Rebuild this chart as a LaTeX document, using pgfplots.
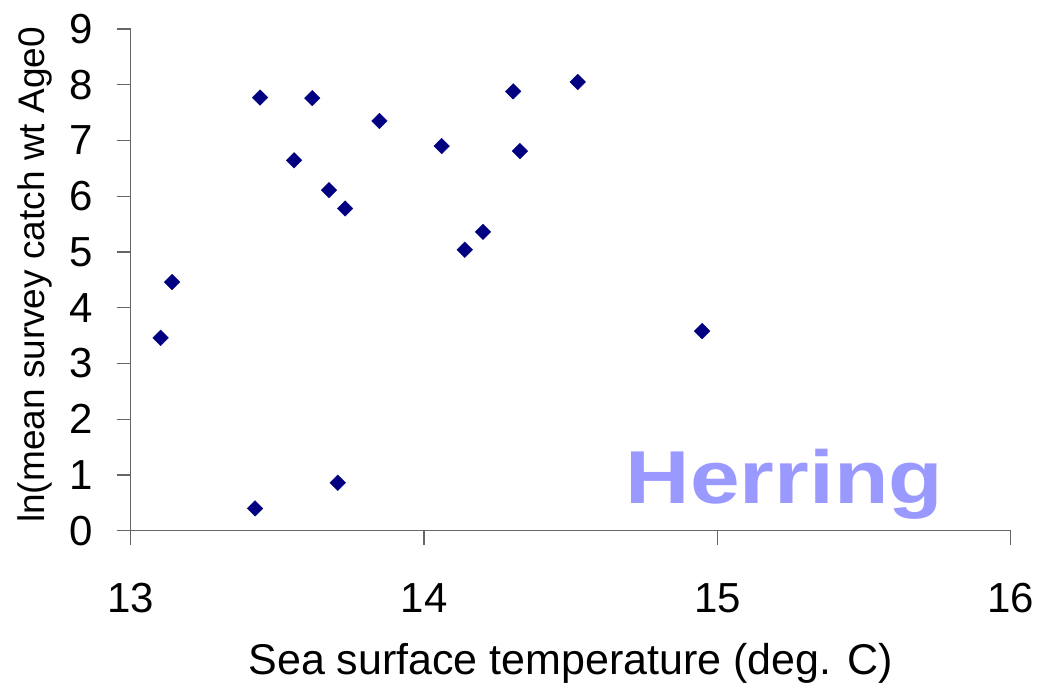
\documentclass[border=0pt]{standalone}
\usepackage{fontspec}
\setmainfont{Liberation Sans}
\usepackage{pgfplots}
\usepackage{pgfplotstable}
\pgfplotsset{compat=1.18}
\definecolor{navy}{HTML}{000080}
\definecolor{herring}{HTML}{9999FF}
\definecolor{axisgray}{HTML}{666666}
\pgfplotstableread{
x y
13.102 3.46
13.141 4.46
13.424 0.40
13.441 7.77
13.557 6.645
13.619 7.76
13.676 6.11
13.706 0.86
13.731 5.78
13.848 7.35
14.060 6.90
14.139 5.04
14.201 5.36
14.304 7.88
14.327 6.81
14.524 8.05
14.948 3.58
}\herringdata
\begin{document}
\begin{tikzpicture}
\useasboundingbox (-130.7pt,-162.3pt) rectangle (907.3pt,530.7pt);
\begin{axis}[
  at={(0pt,0pt)}, anchor=south west,
  scale only axis, width=880pt, height=501.7pt,
  xmin=13, xmax=16, ymin=0, ymax=9,
  xtick={13,14,15,16}, ytick={0,1,2,3,4,5,6,7,8,9},
  axis lines=left, axis line style={-, draw=axisgray, line width=1.2pt},
  tick align=outside, major tick length=14pt,
  tick style={draw=axisgray, line width=1.2pt},
  /pgf/number format/assume math mode=true,
  ticklabel style={font=\fontsize{42}{50}\selectfont},
  xticklabel style={anchor=base, yshift=-68pt},
  yticklabel style={anchor=east, xshift=-20pt},
  xlabel={Sea surface temperature (deg. C)},
  ylabel={ln(mean survey catch wt Age0},
  xlabel style={font=\fontsize{43}{50}\selectfont, at={(axis description cs:0.5,-0.2876)}, anchor=base},
  ylabel style={font=\fontsize{37}{44}\selectfont, at={(axis description cs:-0.0974,0.5097)}, anchor=base},
  clip=false,
]
\addplot[only marks, mark=square*, mark size=5.5pt, mark options={rotate=45, fill=navy, draw=navy}] table[x=x,y=y] {\herringdata};
\node[anchor=base west, text=herring, font=\fontsize{75}{80}\selectfont\bfseries, inner sep=0pt] at (axis cs:14.687,0.479) {\scalebox{1.19}[1]{Herring}};
\end{axis}
\end{tikzpicture}
\end{document}
